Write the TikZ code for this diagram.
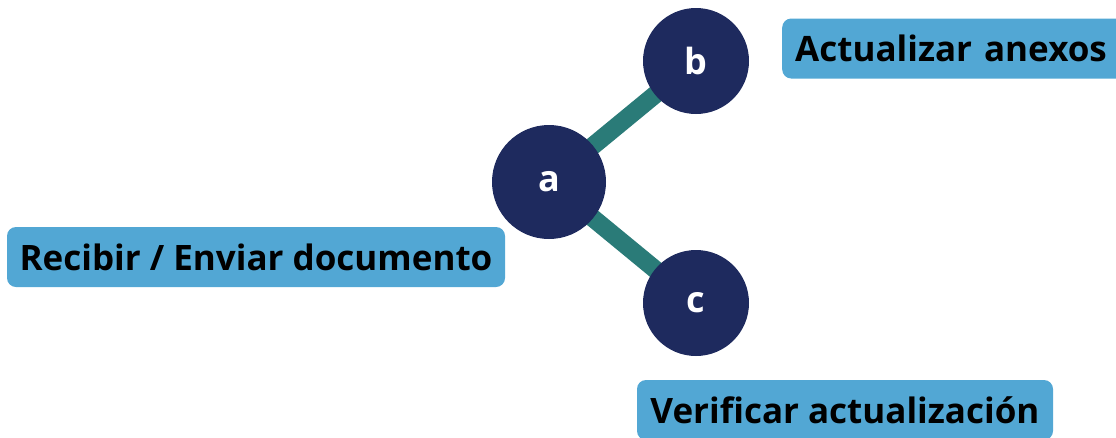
\documentclass[tikz,border=0pt]{standalone}
\usepackage{fontspec}
\setmainfont{Open Sans}
\usetikzlibrary{backgrounds}
\definecolor{navy}{RGB}{30,42,94}
\definecolor{teal2}{RGB}{42,123,120}
\definecolor{boxblue}{RGB}{82,167,212}
\begin{document}
\begin{tikzpicture}[x=1pt,y=-1pt,
  circ/.style={circle,fill=navy,text=white,minimum size=#1,inner sep=0pt,font=\fontsize{36}{38}\selectfont\bfseries},
  lbl/.style={rounded corners=9pt,fill=boxblue,text=black,inner sep=0pt,minimum height=60pt,font=\fontsize{35}{38}\selectfont\bfseries},
  edge/.style={draw=teal2,line width=18pt}]
\useasboundingbox (0,0) rectangle (1116,437);
\node[circ=114pt] (a) at (549,182) {a};
\node[circ=106pt] (b) at (696,61) {b};
\node[circ=106pt] (c) at (696,303) {c};
\node[lbl,minimum width=498pt] (la) at (256,257) {Recibir / Enviar documento};
\node[lbl,anchor=west,align=left,text width=335pt,inner xsep=13pt] (lb) at (782,48.5) {Actualizar\hspace{12pt}anexos};
\node[lbl,minimum width=416pt] (lc) at (845,410) {Verificar actualización};
\begin{scope}[on background layer]
\draw[edge] (a.center) -- (b.center);
\draw[edge] (a.center) -- (c.center);
\end{scope}
\end{tikzpicture}
\end{document}
